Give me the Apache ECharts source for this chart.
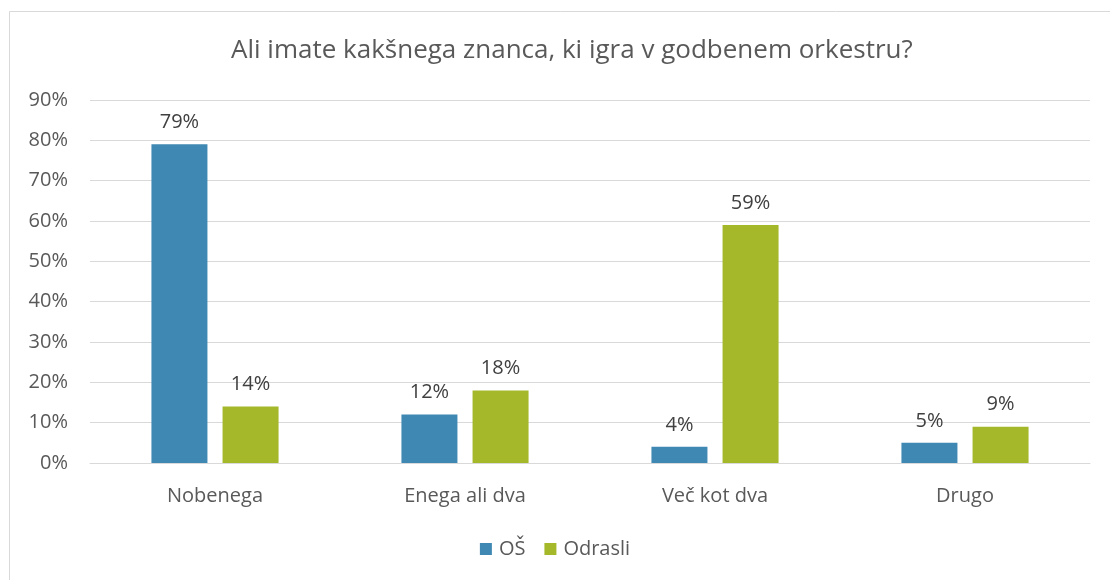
<!DOCTYPE html>
<html>
<head>
<meta charset="UTF-8">
<title>godbeni orkester</title>
<script src="https://cdn.jsdelivr.net/npm/echarts@6/dist/echarts.min.js"></script>
<style>
	html, body { margin: 0; padding: 0; background: #fff; }
	#chart { width: 1110px; height: 580px; }
</style>
</head>
<body>
<div id="chart"></div>
<script type="text/javascript">
	// podatki
	var categories = ['Nobenega', 'Enega ali dva', 'Več kot dva', 'Drugo'];
	var osValues = [79, 12, 4, 5];
	var odrasliValues = [14, 18, 59, 9];
	var seriesNames = ['OŠ', 'Odrasli'];

	var font = '"Open Sans", "DejaVu Sans", sans-serif';
	var labelStyle = {
		show: true,
		position: 'top',
		distance: 12,
		formatter: '{c}%',
		color: '#404040',
		fontSize: 20,
		fontFamily: font
	};

	var myChart = echarts.init(document.getElementById('chart'));
	var option = {
		animation: false,
		backgroundColor: '#fff',
		title: {
			text: 'Ali imate kakšnega znanca, ki igra v godbenem orkestru?',
			left: 226,
			top: 33,
			textStyle: { color: '#595959', fontSize: 26, fontWeight: 'normal', fontFamily: font }
		},
		graphic: [{
			type: 'rect',
			shape: { x: 9.5, y: 11.5, width: 1120, height: 600 },
			style: { fill: 'none', stroke: '#d9d9d9', lineWidth: 1 },
			silent: true
		}],
		legend: {
			data: seriesNames,
			bottom: 16,
			left: 'center',
			itemWidth: 12,
			itemHeight: 12,
			itemGap: 19,
			icon: 'rect',
			textStyle: { color: '#595959', fontSize: 20, fontFamily: font, padding: [0, 0, 0, 2] }
		},
		grid: { left: 90, right: 20, top: 100, bottom: 117 },
		xAxis: {
			type: 'category',
			data: categories,
			axisLine: { lineStyle: { color: '#d9d9d9' } },
			axisTick: { show: false },
			axisLabel: { color: '#595959', fontSize: 20, fontFamily: font, margin: 23 }
		},
		yAxis: {
			type: 'value',
			min: 0,
			max: 90,
			interval: 10,
			axisLabel: { formatter: '{value}%', color: '#595959', fontSize: 20, fontFamily: font, margin: 22 },
			splitLine: { lineStyle: { color: '#d9d9d9', width: 1 } }
		},
		series: [{
			name: seriesNames[0],
			type: 'bar',
			data: osValues,
			barWidth: 56,
			barGap: '27%',
			itemStyle: { color: '#3f88b3' },
			label: labelStyle
		}, {
			name: seriesNames[1],
			type: 'bar',
			data: odrasliValues,
			barWidth: 56,
			itemStyle: { color: '#a5b82a' },
			label: labelStyle
		}]
	};
	myChart.setOption(option);
</script>
</body>
</html>
